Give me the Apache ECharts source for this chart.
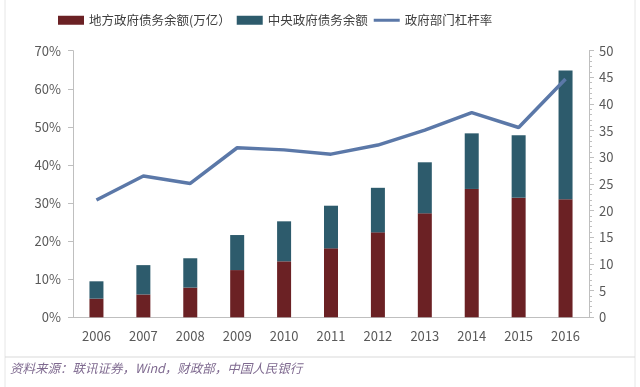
<!DOCTYPE html>
<html><head><meta charset="utf-8">
<script src="https://cdn.jsdelivr.net/npm/echarts@6/dist/echarts.min.js"></script>
<style>html,body{margin:0;padding:0;background:#fff}#c{width:640px;height:387px}</style>
</head><body><div id="c"></div>
<script>
const years = ['2006','2007','2008','2009','2010','2011','2012','2013','2014','2015','2016'];
const localDebt = [4.9, 6.0, 7.8, 12.4, 14.7, 18.1, 22.3, 27.3, 33.7, 31.4, 31.0];
const totalDebt = [9.45, 13.7, 15.5, 21.6, 25.2, 29.3, 34.0, 40.7, 48.3, 47.8, 64.8];
const centralDebt = totalDebt.map((t, i) => +(t - localDebt[i]).toFixed(2));
const leverage = [22.0, 26.5, 25.1, 31.8, 31.4, 30.6, 32.3, 35.1, 38.4, 35.6, 44.7];
const names = ['地方政府债务余额(万亿）', '中央政府债务余额', '政府部门杠杆率'];
const source = '资料来源：联讯证券，Wind，财政部，中国人民银行';

const chart = echarts.init(document.getElementById('c'), null, {renderer: 'canvas'});
const txt = '#595959';
chart.setOption({
  animation: false,
  textStyle: {fontFamily: 'Noto Sans CJK SC, Noto Sans, sans-serif'},
  legend: {
    top: 9, left: 53, itemWidth: 26, itemHeight: 9, itemGap: 6,
    textStyle: {fontSize: 12.5, color: '#404040'},
    data: [{name: names[0], icon: 'rect'}, {name: names[1], icon: 'rect'},
           {name: names[2], icon: 'path://M0,0 L26,0 L26,3 L0,3 Z'}]
  },
  grid: {left: 73, right: 51, top: 50.7, bottom: 69.7},
  xAxis: {
    type: 'category', data: years,
    axisLine: {lineStyle: {color: '#bfbfbf'}},
    axisTick: {show: false},
    axisLabel: {color: txt, fontSize: 13, margin: 12}
  },
  yAxis: [{
    type: 'value', min: 0, max: 70, interval: 10, position: 'left',
    axisLine: {show: true, lineStyle: {color: '#bfbfbf'}},
    axisTick: {show: true, inside: false, length: 5, lineStyle: {color: '#bfbfbf'}},
    splitLine: {show: false},
    axisLabel: {formatter: '{value}%', color: txt, fontSize: 13, margin: 12}
  }, {
    type: 'value', min: 0, max: 50, interval: 5, position: 'right',
    axisLine: {show: true, lineStyle: {color: '#bfbfbf'}},
    axisTick: {show: true, length: 5, lineStyle: {color: '#bfbfbf'}},
    minorTick: {show: true, splitNumber: 5, length: 3, lineStyle: {color: '#bfbfbf'}},
    splitLine: {show: false},
    axisLabel: {color: txt, fontSize: 13, margin: 10}
  }],
  series: [{
    name: names[0], type: 'bar', stack: 'd', yAxisIndex: 0, barWidth: 14,
    itemStyle: {color: '#6b2124'}, data: localDebt
  }, {
    name: names[1], type: 'bar', stack: 'd', yAxisIndex: 0, barWidth: 14,
    itemStyle: {color: '#2d5b6c'}, data: centralDebt
  }, {
    name: names[2], type: 'line', yAxisIndex: 1, symbol: 'none',
    lineStyle: {color: '#5b78a8', width: 3.5}, itemStyle: {color: '#5b78a8'},
    data: leverage
  }],
  graphic: [
    {type: 'rect', shape: {x: 5, y: -5, width: 630, height: 400}, style: {fill: 'none', stroke: '#e6e6e6', lineWidth: 1}, silent: true},
    {type: 'line', shape: {x1: 5, y1: 357, x2: 635, y2: 357}, style: {stroke: '#d9d9d9', lineWidth: 1}},
    {type: 'text', left: 10, top: 362, style: {text: source, fill: '#7f6a90', font: 'italic 12.5px "Noto Sans CJK SC", sans-serif'}}
  ]
});
</script></body></html>
